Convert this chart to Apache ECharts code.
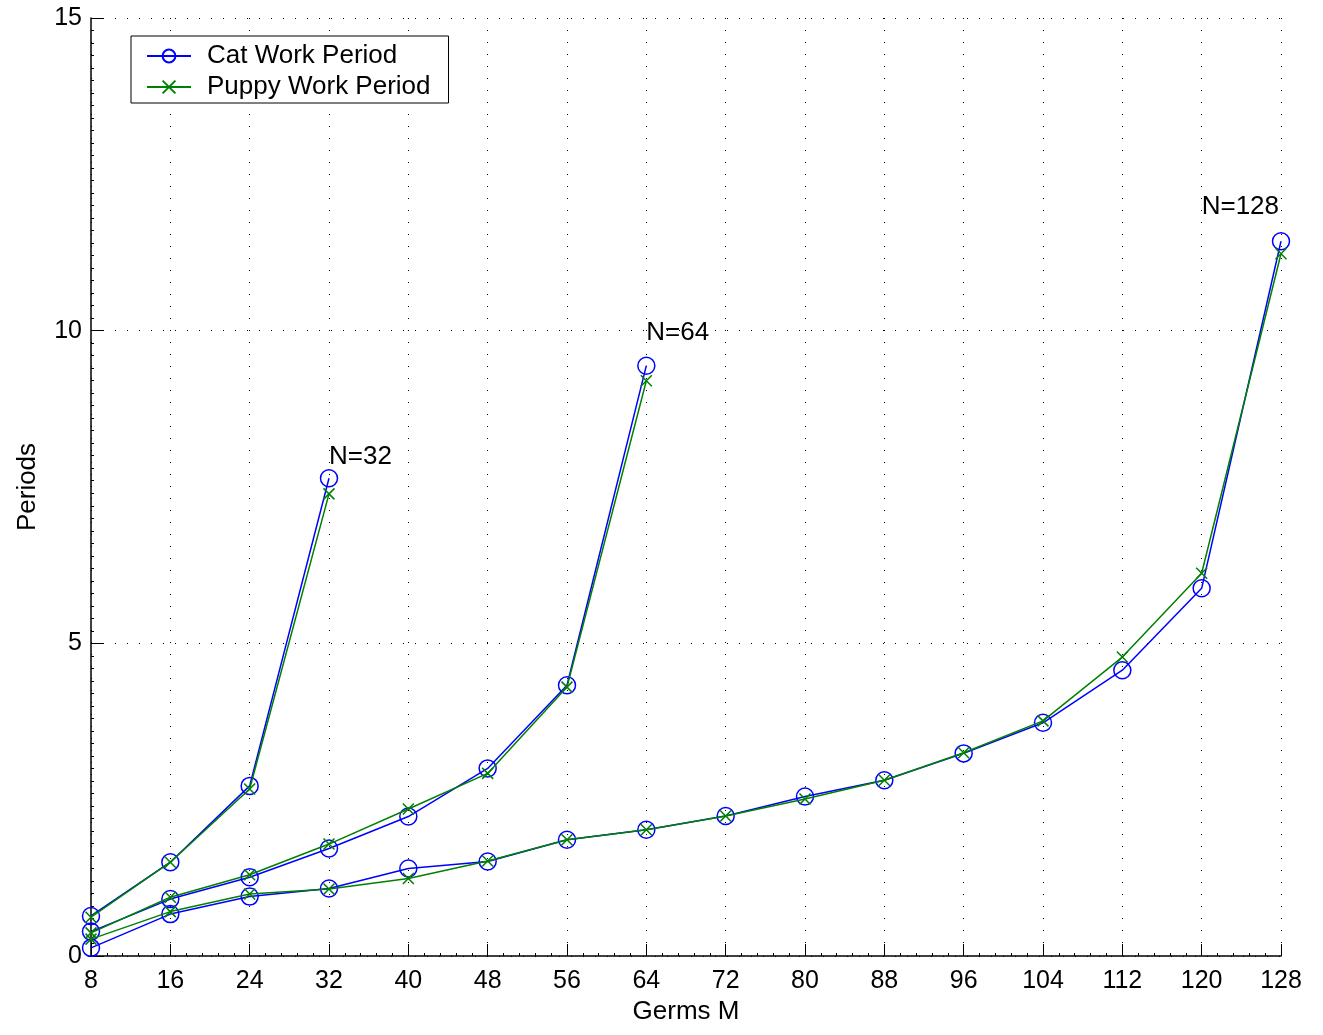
<!DOCTYPE html>
<html>
<head>
<meta charset="utf-8">
<script src="https://cdn.jsdelivr.net/npm/echarts@6/dist/echarts.min.js"></script>
<style>
html,body{margin:0;padding:0;background:#fff;overflow:hidden;}
#chart{width:1323px;height:1035px;}
</style>
</head>
<body>
<div id="chart"></div>
<script>
// ---- data ----
const xTicks = [8, 16, 24, 32, 40, 48, 56, 64, 72, 80, 88, 96, 104, 112, 120, 128];
const yTicks = [0, 5, 10, 15];

const m32 = [8, 16, 24, 32];
const cat32 = [0.64, 1.50, 2.72, 7.64];
const puppy32 = [0.62, 1.50, 2.67, 7.39];

const m64 = [8, 16, 24, 32, 40, 48, 56, 64];
const cat64 = [0.39, 0.91, 1.26, 1.72, 2.23, 3.00, 4.33, 9.44];
const puppy64 = [0.37, 0.94, 1.30, 1.79, 2.35, 2.92, 4.30, 9.20];

const m128 = [8, 16, 24, 32, 40, 48, 56, 64, 72, 80, 88, 96, 104, 112, 120, 128];
const cat128 = [0.13, 0.67, 0.95, 1.08, 1.40, 1.51, 1.86, 2.02, 2.24, 2.55, 2.81, 3.24, 3.73, 4.57, 5.88, 11.43];
const puppy128 = [0.27, 0.71, 0.99, 1.07, 1.24, 1.52, 1.86, 2.02, 2.24, 2.51, 2.81, 3.25, 3.76, 4.78, 6.12, 11.23];

const annX = [32, 64, 120];
const annY = [7.77, 9.76, 11.77];
const annText = ['N=32', 'N=64', 'N=128'];

const catName = 'Cat Work Period';
const puppyName = 'Puppy Work Period';
const titleText = 'Work Periods: Cat vs. Puppy';
const xName = 'Germs M';
const yName = 'Periods';

// ---- chart ----
const FONT = '"Liberation Sans", Arial, sans-serif';
const BLUE = '#0000ff';
const GREEN = '#008000';
const XPATH = 'path://M0,0L10,10M10,0L0,10';

function pairs(xs, ys) { return xs.map((x, i) => [x, ys[i]]); }

function catSeries(xs, ys) {
  return {
    name: catName, type: 'line', data: pairs(xs, ys),
    symbol: 'circle', symbolSize: 17,
    lineStyle: { color: BLUE, width: 1.5 },
    itemStyle: { color: 'rgba(0,0,0,0)', borderColor: BLUE, borderWidth: 1.5 },
    emphasis: { disabled: true }, animation: false, z: 2
  };
}
function puppySeries(xs, ys) {
  return {
    name: puppyName, type: 'line', data: pairs(xs, ys),
    symbol: XPATH, symbolSize: 11,
    lineStyle: { color: GREEN, width: 1.5 },
    itemStyle: { color: GREEN, borderColor: GREEN, borderWidth: 1.5 },
    emphasis: { disabled: true }, animation: false, z: 3
  };
}

const chart = echarts.init(document.getElementById('chart'), null, { renderer: 'canvas' });
chart.setOption({
  backgroundColor: '#ffffff',
  animation: false,
  textStyle: { fontFamily: FONT },
  title: {
    text: titleText, right: 418, top: -25, padding: 0,
    textStyle: { fontFamily: FONT, fontSize: 26, fontWeight: 'normal', color: '#000' }
  },
  grid: { left: 91, right: 42, top: 18, bottom: 79, containLabel: false, outerBoundsMode: 'none' },
  legend: {
    data: [catName, puppyName],
    orient: 'vertical', left: 131, top: 36,
    padding: [7, 18, 3, 15], itemGap: 5,
    itemWidth: 44, itemHeight: 16,
    backgroundColor: '#fff', borderColor: '#000', borderWidth: 1,
    textStyle: { fontFamily: FONT, fontSize: 26, color: '#000', padding: [0, 0, 0, 11] },
    selectedMode: false
  },
  xAxis: {
    type: 'value', min: xTicks[0], max: xTicks[xTicks.length - 1], interval: 8,
    name: xName, nameLocation: 'middle', nameGap: 42,
    nameTextStyle: { fontFamily: FONT, fontSize: 26, color: '#000' },
    axisLine: { show: true, onZero: false, lineStyle: { color: '#000', width: 1.5 } },
    axisTick: { show: true, inside: true, length: 12, lineStyle: { color: '#000', width: 1 } },
    minorTick: { show: true, splitNumber: 5, length: 3, lineStyle: { color: '#000', width: 1 } },
    axisLabel: { fontFamily: FONT, fontSize: 25, color: '#000', margin: 13 },
    splitLine: { show: true, lineStyle: { color: '#000', width: 1, type: [1, 11] } }
  },
  yAxis: {
    type: 'value', min: yTicks[0], max: yTicks[yTicks.length - 1], interval: 5,
    name: yName, nameLocation: 'middle', nameGap: 50, nameRotate: 90,
    nameTextStyle: { fontFamily: FONT, fontSize: 26, color: '#000' },
    axisLine: { show: true, onZero: false, lineStyle: { color: '#000', width: 1.5 } },
    axisTick: { show: true, inside: true, length: 12, lineStyle: { color: '#000', width: 1 } },
    minorTick: { show: true, splitNumber: 25, length: 3, lineStyle: { color: '#000', width: 1 } },
    axisLabel: { fontFamily: FONT, fontSize: 25, color: '#000', margin: 9 },
    splitLine: { show: true, lineStyle: { color: '#000', width: 1, type: [1, 11] } }
  },
  series: [
    catSeries(m32, cat32), puppySeries(m32, puppy32),
    catSeries(m64, cat64), puppySeries(m64, puppy64),
    catSeries(m128, cat128), puppySeries(m128, puppy128),
    {
      name: 'annotations', type: 'scatter', data: pairs(annX, annY),
      symbolSize: 0, silent: true, animation: false, z: 5,
      label: {
        show: true, position: [0, 0], align: 'left', verticalAlign: 'bottom',
        formatter: p => annText[p.dataIndex],
        fontFamily: FONT, fontSize: 26, color: '#000',
        textBorderWidth: 0, textShadowBlur: 0, opacity: 1
      }
    }
  ]
});
</script>
</body>
</html>
